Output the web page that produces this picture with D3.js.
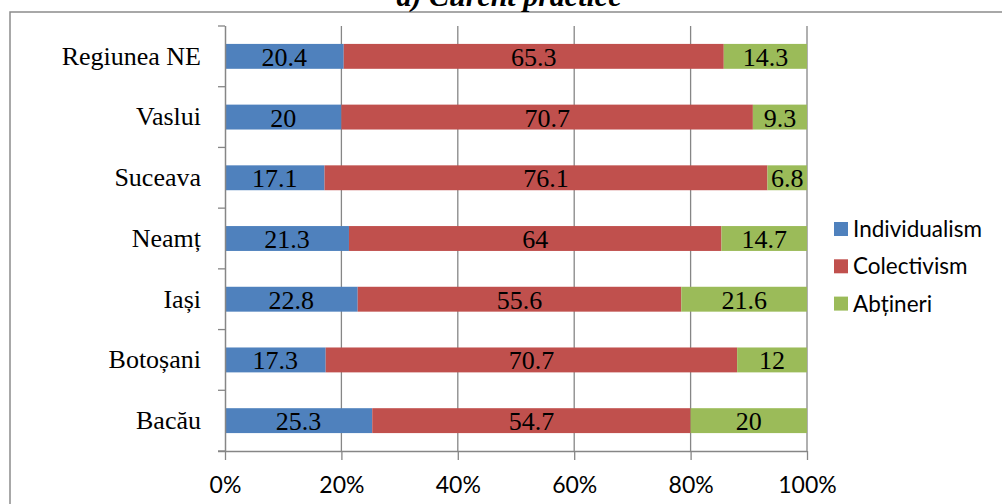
<!DOCTYPE html>
<html><head><meta charset="utf-8">
<script src="https://cdn.jsdelivr.net/npm/d3@7"></script>
<style>body{margin:0;background:#fff}svg{display:block}</style>
</head><body>
<svg id="c" width="1002" height="504"></svg>
<script>
const categories = ["Regiunea NE","Vaslui","Suceava","Neamț","Iași","Botoșani","Bacău"];
const seriesNames = ["Individualism","Colectivism","Abțineri"];
const individualism = [20.4,20,17.1,21.3,22.8,17.3,25.3];
const colectivism = [65.3,70.7,76.1,64,55.6,70.7,54.7];
const abtineri = [14.3,9.3,6.8,14.7,21.6,12,20];
const colors = ["#4F81BD","#C0504D","#9BBB59"];
const tickValues = [0,20,40,60,80,100];
const title = "a) Curent practice";

const svg = d3.select("#c");
const m = {left:225, right:807, top:26, bottom:451};
const x = d3.scaleLinear().domain([0,100]).range([m.left,m.right]);
const y = d3.scaleBand().domain(categories).range([m.top,m.bottom]).paddingInner(0.59).paddingOuter(0.295);

// outer border
svg.append("path").attr("d",`M10,504 V12 H1002`).attr("fill","none").attr("stroke","#8c8c8c").attr("stroke-width",1.5);

svg.append("text").attr("x",509).attr("y",6).attr("text-anchor","middle")
  .attr("font-family","Liberation Serif").attr("font-weight","bold").attr("font-style","italic")
  .attr("font-size",30).text(title);

// gridlines
svg.append("g").selectAll("line").data(tickValues.slice(1)).join("line")
  .attr("x1",d=>x(d)).attr("x2",d=>x(d)).attr("y1",m.top).attr("y2",m.bottom)
  .attr("stroke","#868686").attr("stroke-width",1.3);

const data = categories.map((c,i)=>({cat:c, vals:[individualism[i],colectivism[i],abtineri[i]]}));
const g = svg.append("g");
data.forEach(d=>{
  let acc=0;
  d.vals.forEach((v,j)=>{
    const x0=x(acc), x1=x(acc+v);
    g.append("rect").attr("x",x0).attr("y",y(d.cat)).attr("width",x1-x0).attr("height",y.bandwidth()).attr("fill",colors[j]);
    g.append("text").attr("x",(x0+x1)/2).attr("y",y(d.cat)+y.bandwidth()/2+9.5).attr("text-anchor","middle")
      .attr("font-family","Liberation Serif").attr("font-size",26).attr("fill","#000").text(String(v));
    acc+=v;
  });
});

// x axis
const xa = svg.append("g").attr("transform",`translate(0,${m.bottom})`)
  .call(d3.axisBottom(x).tickValues(tickValues).tickFormat(d=>d+"%").tickSize(9).tickPadding(17));
xa.select(".domain").attr("stroke","#868686").attr("stroke-width",1.5).attr("d",`M${m.left-7},0.5H${m.right}`);
xa.selectAll(".tick line").attr("stroke","#868686").attr("stroke-width",1.3);
xa.selectAll("text").attr("font-family","Lato").attr("font-size",23).attr("fill","#000").attr("dy","0.71em");

// y axis
const ya = svg.append("g").attr("transform",`translate(${m.left},0)`)
  .call(d3.axisLeft(y).tickSize(0).tickPadding(24));
ya.select(".domain").attr("stroke","#868686").attr("stroke-width",1.5).attr("d",`M0.5,${m.top}V${m.bottom}`);
ya.selectAll("text").attr("font-family","Liberation Serif").attr("font-size",26).attr("fill","#000");
// band boundary ticks
const bounds = d3.range(categories.length+1).map(i=>m.top+i*(m.bottom-m.top)/categories.length);
svg.append("g").selectAll("line").data(bounds).join("line")
  .attr("x1",m.left-7).attr("x2",m.left).attr("y1",d=>d).attr("y2",d=>d)
  .attr("stroke","#868686").attr("stroke-width",1.3);

// legend
const lg = svg.append("g").attr("transform","translate(834,0)");
seriesNames.forEach((s,i)=>{
  const cy = 229 + i*37.3;
  lg.append("rect").attr("x",0).attr("y",cy-7).attr("width",14).attr("height",14).attr("fill",colors[i]);
  lg.append("text").attr("x",19).attr("y",cy+8).attr("font-family","Lato").attr("font-size",22.5).attr("fill","#000").text(s);
});
</script>
</body></html>
